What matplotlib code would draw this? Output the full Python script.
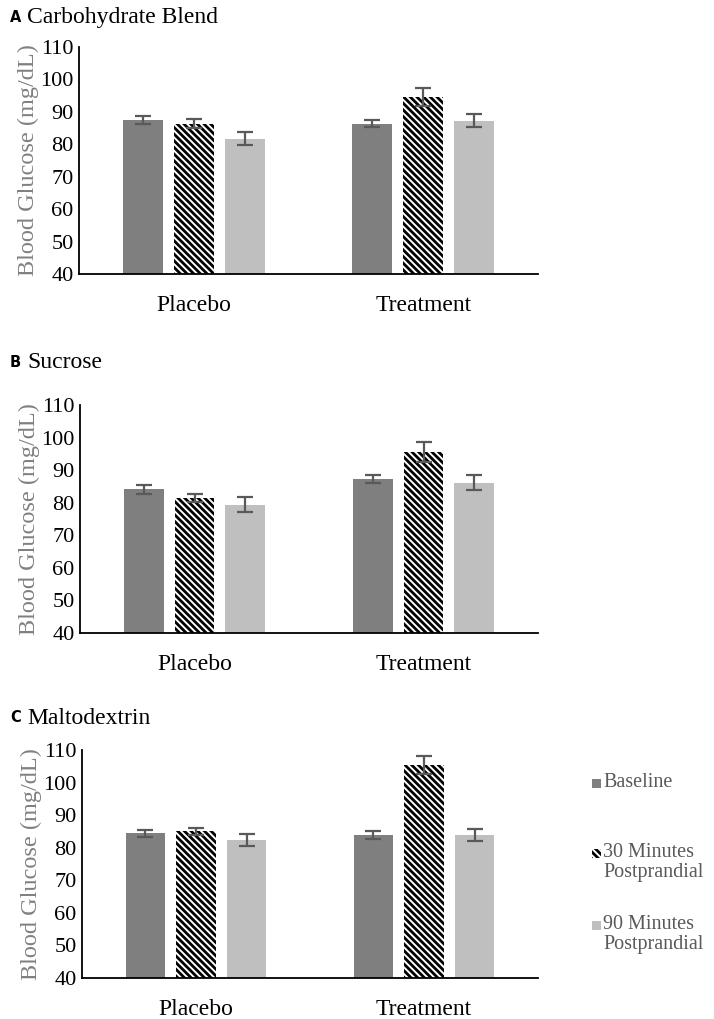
import matplotlib
matplotlib.use("Agg")
import matplotlib.pyplot as plt
from matplotlib.patches import Rectangle
import numpy as np

groups = ["Placebo", "Treatment"]
series = ["Baseline", "30 Minutes\nPostprandial", "90 Minutes\nPostprandial"]
panel_letters = ["A", "B", "C"]
panel_titles = ["Carbohydrate Blend", "Sucrose", "Maltodextrin"]

# values[panel][series] -> [placebo, treatment]
carb_means = [[87.4, 86.4], [86.4, 94.5], [81.7, 87.3]]
carb_errs = [[1.2, 1.2], [1.4, 2.8], [2.0, 2.0]]
sucrose_means = [[84.1, 87.3], [81.4, 95.6], [79.4, 86.2]]
sucrose_errs = [[1.3, 1.1], [1.3, 3.0], [2.4, 2.2]]
malto_means = [[84.4, 83.9], [85.0, 105.5], [82.4, 83.9]]
malto_errs = [[1.0, 1.3], [1.2, 2.8], [1.8, 1.8]]

all_means = [carb_means, sucrose_means, malto_means]
all_errs = [carb_errs, sucrose_errs, malto_errs]

yticks = [40, 50, 60, 70, 80, 90, 100, 110]

bar_colors = ["#7f7f7f", "white", "#bfbfbf"]
hatches = [None, "\\\\\\\\\\", None]

plt.rcParams['font.family'] = ['Liberation Serif', 'DejaVu Serif']
plt.rcParams['hatch.linewidth'] = 2.0

W, H = 714, 1019
fig = plt.figure(figsize=(W / 100, H / 100), dpi=100)

# axes px boxes: (left, top, right, bottom)
boxes = [(79, 47, 538, 274), (80, 405, 538, 633), (82, 750, 538, 978)]
title_y = [17, 362, 718]

x = np.arange(len(groups))
bw = 0.174
offs = [-0.222, 0.0, 0.222]

for p in range(3):
    l, t, r, b = boxes[p]
    ax = fig.add_axes([l / W, 1 - b / H, (r - l) / W, (b - t) / H])
    for s in range(3):
        ax.bar(x + offs[s], all_means[p][s], bw, bottom=0,
               color=bar_colors[s], hatch=hatches[s],
               edgecolor="black" if hatches[s] else bar_colors[s],
               linewidth=0, label=series[s], zorder=2)
        ax.errorbar(x + offs[s], all_means[p][s], yerr=all_errs[p][s],
                    fmt="none", ecolor="#595959", elinewidth=1.6,
                    capsize=5.5, capthick=1.6, zorder=3)
    ax.set_ylim(40, 110)
    ax.set_xlim(-0.5, 1.5)
    ax.set_yticks(yticks)
    ax.set_yticklabels([str(v) for v in yticks], fontsize=16)
    ax.set_xticks(x)
    ax.set_xticklabels(groups, fontsize=17)
    ax.tick_params(axis="both", length=0)
    ax.tick_params(axis="x", pad=15)
    ax.tick_params(axis="y", pad=4)
    for sp in ["top", "right"]:
        ax.spines[sp].set_visible(False)
    for sp in ["left", "bottom"]:
        ax.spines[sp].set_linewidth(1.3)
        ax.spines[sp].set_color("black")
    ax.set_ylabel("Blood Glucose (mg/dL)", fontsize=17.5, color="#808080", labelpad=1)

    fig.text(10 / W, 1 - title_y[p] / H, panel_letters[p], fontsize=10.5,
             fontweight="bold", family="DejaVu Sans", va="center", ha="left")
    fig.text(27 / W, 1 - title_y[p] / H, panel_titles[p], fontsize=17,
             va="center", ha="left")

# legend (manual layout to match reference: marker aligned with first line)
leg_y = [783, 853, 925]
for s in range(3):
    yc = leg_y[s]
    fig.patches.append(Rectangle((592 / W, 1 - (yc + 4.5) / H), 9 / W, 9 / H,
                                 transform=fig.transFigure,
                                 facecolor=bar_colors[s], hatch=hatches[s],
                                 edgecolor="black" if hatches[s] else bar_colors[s],
                                 linewidth=0))
    fig.text(603 / W, 1 - (yc - 10) / H, series[s], fontsize=14.5, color="#595959",
             va="top", ha="left", linespacing=1.05)

fig.savefig("out.png", dpi=100)
